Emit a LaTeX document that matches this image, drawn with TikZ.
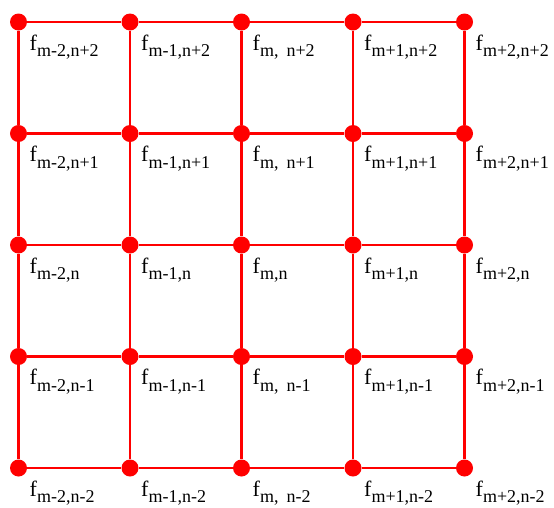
\documentclass[tikz,border=0pt]{standalone}
\usepackage{fontspec}
\setmainfont{Liberation Serif}
\newcommand{\flab}[1]{\fontsize{22}{24}\selectfont f\raisebox{-6.7pt}{\fontsize{18}{20}\selectfont #1}}
\tikzset{
  gdot/.style={circle,fill=red,draw=none,minimum size=17pt,inner sep=0pt},
  gline/.style={draw=red,line width=2.6pt},
  glab/.style={anchor=base west,inner sep=0pt}
}
\begin{document}
\begin{tikzpicture}[x=1pt,y=-1pt]
\useasboundingbox (0,0) rectangle (554,507);
\foreach \i/\xx in {0/18.5,1/130,2/241.5,3/353,4/464.5}{
  \foreach \j/\yy in {0/22,1/133.5,2/245,3/356.5,4/468}{
    \node[gdot] (d\i\j) at (\xx,\yy) {};
  }
}
\foreach \i in {0,...,4}{
  \foreach \j/\k in {0/1,1/2,2/3,3/4}{
    \draw[gline] (d\i\j) -- (d\i\k);
    \draw[gline] (d\j\i) -- (d\k\i);
  }
}
% labels
\foreach \i/\xx/\ms in {0/18.5/m-2,1/130/m-1,3/353/m+1,4/464.5/m+2}{
  \foreach \j/\yy/\ns in {0/22/n+2,1/133.5/n+1,2/245/n,3/356.5/n-1,4/468/n-2}{
    \node[glab] (l\i\j) at (\xx+11,\yy+28) {\flab{\ms,\ns}};
  }
}
\node[glab] (l20) at (252.5,50) {\flab{m,\hspace{8pt}n+2}};
\node[glab] (l21) at (252.5,161.5) {\flab{m,\hspace{8pt}n+1}};
\node[glab] (l22) at (252.5,273) {\flab{m,n}};
\node[glab] (l23) at (252.5,384.5) {\flab{m,\hspace{8pt}n-1}};
\node[glab] (l24) at (252.5,496) {\flab{m,\hspace{8pt}n-2}};
\end{tikzpicture}
\end{document}
